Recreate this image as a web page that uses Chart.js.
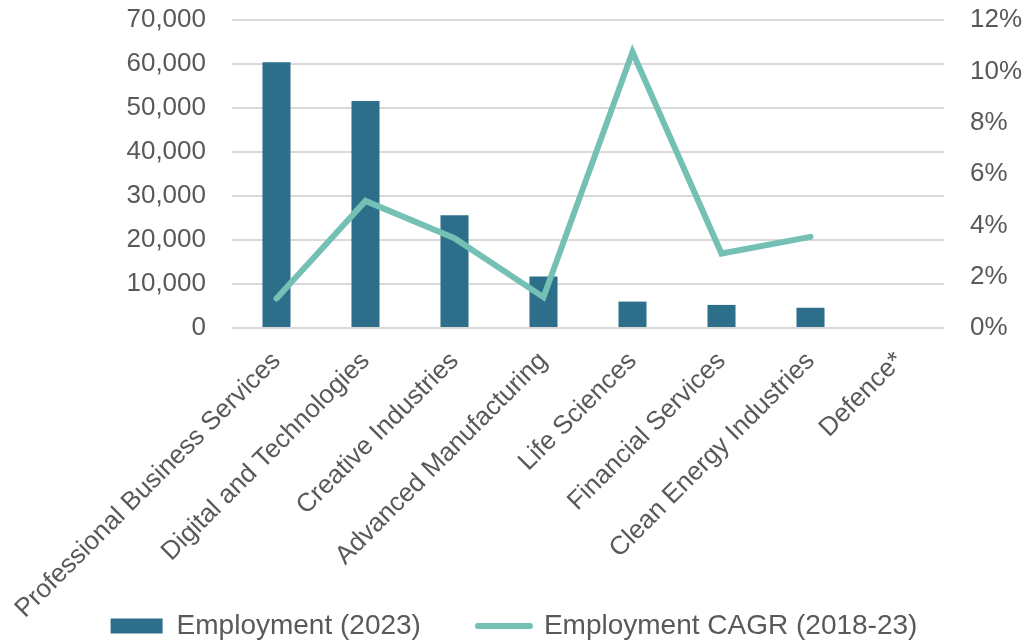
<!DOCTYPE html>
<html>
<head>
<meta charset="utf-8">
<script src="https://cdn.jsdelivr.net/npm/chart.js@4/dist/chart.umd.min.js"></script>
<style>
  html, body { margin: 0; padding: 0; background: #ffffff; }
  #wrap { width: 1028px; height: 642px; }
</style>
</head>
<body>
<div id="wrap"><canvas id="c" width="1028" height="642"></canvas></div>
<script>
const categories = [
  'Professional Business Services',
  'Digital and Technologies',
  'Creative Industries',
  'Advanced Manufacturing',
  'Life Sciences',
  'Financial Services',
  'Clean Energy Industries',
  'Defence*'
];
const employment2023 = [60400, 51600, 25600, 11700, 6000, 5250, 4600, null];
const employmentCagr = [1.15, 4.95, 3.5, 1.2, 10.75, 2.9, 3.55, null];
const seriesNames = ['Employment (2023)', 'Employment CAGR (2018-23)'];
const leftTicks = [0, 10000, 20000, 30000, 40000, 50000, 60000, 70000];
const rightTicks = [0, 2, 4, 6, 8, 10, 12];

const BAR = '#2d6e8a';
const LINE = '#75c0b5';
const TXT = '#595959';
const FONT = "'Liberation Sans', Arial, sans-serif";

const layoutTweaks = {
  id: 'layoutTweaks',
  afterUpdate(chart) {
    if (chart.legend) { chart.legend.top += 8; chart.legend.bottom += 8; }
    const x = chart.scales.x;
    if (x) { x.bottom = chart.height; }
  }
};

function noPadV(scale) { scale.paddingTop = 0; scale.paddingBottom = 0; }
function noPadH(scale) { scale.paddingLeft = 0; scale.paddingRight = 0; }

new Chart(document.getElementById('c'), {
  type: 'bar',
  data: {
    labels: categories,
    datasets: [
      {
        type: 'bar',
        label: seriesNames[0],
        data: employment2023,
        backgroundColor: BAR,
        borderWidth: 0,
        yAxisID: 'y',
        order: 1,
        categoryPercentage: 1,
        barPercentage: 0.315
      },
      {
        type: 'line',
        label: seriesNames[1],
        data: employmentCagr,
        borderColor: LINE,
        backgroundColor: LINE,
        borderWidth: 6,
        borderCapStyle: 'round',
        borderJoinStyle: 'miter',
        pointRadius: 0,
        pointHoverRadius: 0,
        tension: 0,
        spanGaps: false,
        yAxisID: 'y1',
        order: 0
      }
    ]
  },
  options: {
    responsive: false,
    animation: false,
    devicePixelRatio: 1,
    layout: { padding: { top: 20, left: 0, right: 0, bottom: 0 } },
    plugins: {
      tooltip: { enabled: false },
      legend: {
        position: 'bottom',
        labels: {
          color: TXT,
          font: { family: FONT, size: 28 },
          usePointStyle: true,
          pointStyleWidth: 52,
          boxHeight: 15,
          padding: 57,
          generateLabels(chart) {
            return chart.data.datasets.map((ds, i) => ({
              text: ds.label,
              fillStyle: ds.type === 'line' ? ds.borderColor : ds.backgroundColor,
              strokeStyle: ds.type === 'line' ? ds.borderColor : ds.backgroundColor,
              lineWidth: ds.type === 'line' ? 6 : 0,
              lineCap: 'round',
              pointStyle: ds.type === 'line' ? 'line' : 'rect',
              fontColor: TXT,
              hidden: false,
              datasetIndex: i
            }));
          }
        }
      }
    },
    scales: {
      x: {
        grid: { display: false },
        border: { display: false },
        ticks: {
          color: TXT,
          font: { family: FONT, size: 26 },
          minRotation: 45,
          maxRotation: 45,
          autoSkip: false,
          padding: 10
        },
        afterFit(scale) { scale.height = 219; noPadH(scale); }
      },
      y: {
        position: 'left',
        min: 0,
        max: 70000,
        afterBuildTicks(scale) { scale.ticks = leftTicks.map(v => ({ value: v })); },
        grid: { color: '#d9d9d9', lineWidth: 2, drawTicks: false },
        border: { display: false },
        ticks: {
          color: TXT,
          font: { family: FONT, size: 26 },
          padding: 26,
          callback: v => Number(v).toLocaleString('en-US')
        },
        afterFit(scale) { scale.width = 232; noPadV(scale); }
      },
      y1: {
        position: 'right',
        min: 0,
        max: 12,
        afterBuildTicks(scale) { scale.ticks = rightTicks.map(v => ({ value: v })); },
        grid: { display: false, drawTicks: false },
        border: { display: false },
        ticks: {
          color: TXT,
          font: { family: FONT, size: 26 },
          padding: 26,
          callback: v => v + '%'
        },
        afterFit(scale) { scale.width = 84; noPadV(scale); }
      }
    }
  },
  plugins: [layoutTweaks]
});
</script>
</body>
</html>
